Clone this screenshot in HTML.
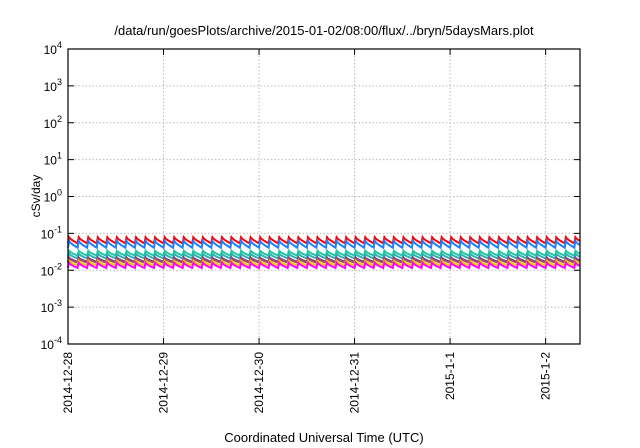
<!DOCTYPE html>
<html><head><meta charset="utf-8"><style>
body{margin:0;background:#fff;}
svg{display:block;font-family:"Liberation Sans",sans-serif;}
</style></head><body>
<svg id="chart" width="640" height="448">
<text x="324" y="35" font-size="13" text-anchor="middle">/data/run/goesPlots/archive/2015-01-02/08:00/flux/../bryn/5daysMars.plot</text>
<g id="grid"></g>
<g id="series"></g>
<rect x="68" y="49" width="512" height="295" fill="none" stroke="#000" stroke-width="1.2"/>
<g id="axes"></g>
<text transform="translate(40,196) rotate(-90)" font-size="12" text-anchor="middle">cSv/day</text>
<text x="324" y="442" font-size="13" text-anchor="middle">Coordinated Universal Time (UTC)</text>
</svg>
<script>
const xTickLabels=["2014-12-28","2014-12-29","2014-12-30","2014-12-31","2015-1-1","2015-1-2"];
const xTickDays=[0,1,2,3,4,5];
const yTickExps=[-4,-3,-2,-1,0,1,2,3,4];
const seriesNames=["s1","s2","s3","s4","s5","s6","s7","s8"];
const seriesColors=["#ff0000","#1f7fff","#20c8a0","#30b0b0","#7a2a9a","#a05060","#e8d000","#ff00ff"];
const seriesPeak=[0.079,0.063,0.034,0.028,0.022,0.021,0.018,0.016];
const seriesTrough=[0.054,0.041,0.025,0.021,0.017,0.016,0.0135,0.0115];
const cyclesPerDay=10;
const dayMax=5.36;
const NS="http://www.w3.org/2000/svg";
const X0=68,X1=580,Y0=344,Y1=49;
const xs=d=>X0+(d/dayMax)*(X1-X0);
const ys=v=>Y0-(Math.log10(v)+4)/8*(Y0-Y1);
function mk(t,a,p){const e=document.createElementNS(NS,t);for(const k in a)e.setAttribute(k,a[k]);p.appendChild(e);return e;}
const grid=document.getElementById('grid'),axes=document.getElementById('axes'),ser=document.getElementById('series');
xTickDays.forEach((d,i)=>{
  const x=xs(d);
  if(d>0){const g=mk('line',{x1:x,x2:x,y1:Y1,y2:Y0,stroke:'#bbb','stroke-dasharray':'1.5,2'},grid);
  
  }
  mk('line',{x1:x,x2:x,y1:Y0,y2:Y0-6,stroke:'#000'},axes);
  mk('line',{x1:x,x2:x,y1:Y1,y2:Y1+6,stroke:'#000'},axes);
  const t=mk('text',{transform:`translate(${x+4},${Y0+8}) rotate(-90)`,'font-size':12,'text-anchor':'end'},axes);
  t.textContent=xTickLabels[i];
  
  
});
yTickExps.forEach(e=>{
  const y=ys(Math.pow(10,e));
  if(e>-4&&e<4){const g=mk('line',{x1:X0,x2:X1,y1:y,y2:y,stroke:'#bbb','stroke-dasharray':'1.5,2'},grid);
  
  }
  mk('line',{x1:X0,x2:X0+6,y1:y,y2:y,stroke:'#000'},axes);
  mk('line',{x1:X1,x2:X1-6,y1:y,y2:y,stroke:'#000'},axes);
  const t=mk('text',{x:X0-6,y:y+5,'font-size':12,'text-anchor':'end'},axes);
  t.innerHTML='10<tspan dy="-6" font-size="9">'+e+'</tspan>';
  
  
});
seriesNames.forEach((n,si)=>{
  const pk=seriesPeak[si],tr=seriesTrough[si];
  const per=1/cyclesPerDay;let pts=[];
  for(let c=0;c*per<dayMax;c++){
    const t0=c*per;
    pts.push([t0,tr]);
    for(let k=0;k<=8;k++){
      const t=t0+per*0.12+per*0.88*k/8;if(t>dayMax)break;
      const f=k/8;
      pts.push([t,pk*Math.pow(tr/pk,Math.pow(f,0.7))]);
    }
  }
  const d=pts.map((p,i)=>(i?'L':'M')+xs(p[0]).toFixed(1)+','+ys(p[1]).toFixed(1)).join('');
  const p=mk('path',{d:d,fill:'none',stroke:seriesColors[si],'stroke-width':2},ser);
  
  
});
</script>
</body></html>
